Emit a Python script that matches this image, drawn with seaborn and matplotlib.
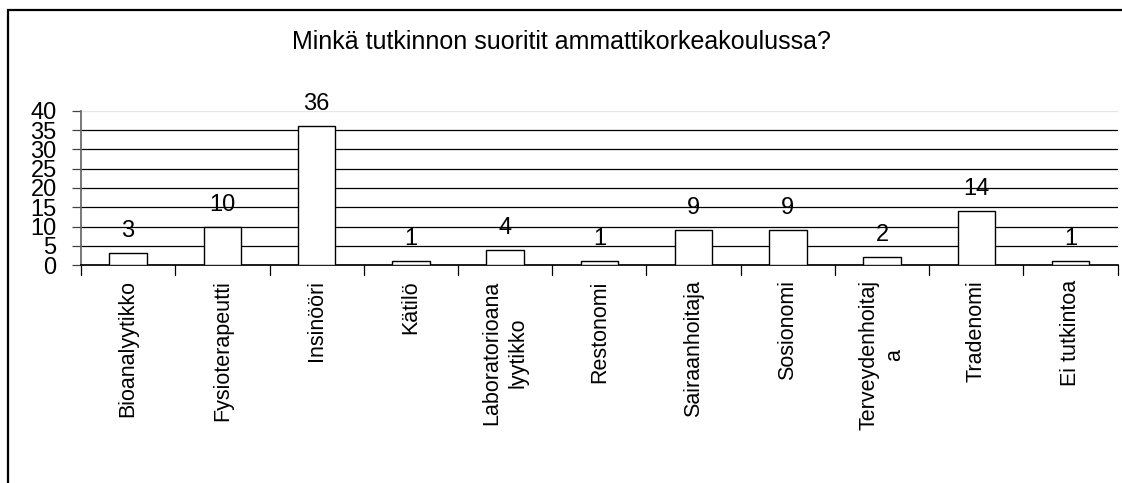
import matplotlib
matplotlib.use("Agg")
import matplotlib.pyplot as plt
import seaborn as sns
import pandas as pd
from matplotlib.patches import Rectangle

sns.set_theme(style="white")
plt.rcParams['font.family'] = ['Liberation Sans', 'DejaVu Sans']
plt.rcParams['text.color'] = 'black'
plt.rcParams['xtick.color'] = 'black'
plt.rcParams['ytick.color'] = 'black'

# Data
categories = ["Bioanalyytikko", "Fysioterapeutti", "Insinööri", "Kätilö",
              "Laboratorioana\nlyytikko", "Restonomi", "Sairaanhoitaja",
              "Sosionomi", "Terveydenhoitaj\na", "Tradenomi", "Ei tutkintoa"]
counts = [3, 10, 36, 1, 4, 1, 9, 9, 2, 14, 1]
yticks = [0, 5, 10, 15, 20, 25, 30, 35, 40]
title = "Minkä tutkinnon suoritit ammattikorkeakoulussa?"

df = pd.DataFrame({"tutkinto": categories, "lkm": counts})

fig = plt.figure(figsize=(11.22, 4.83), dpi=100)
ax = fig.add_axes([0.0722, 0.4513, 0.924, 0.319])

sns.barplot(data=df, x="tutkinto", y="lkm", color="white", edgecolor="black",
            linewidth=1, width=0.4, saturation=1, ax=ax, zorder=3)

ax.set_ylim(0, 40)
ax.set_xlim(-0.5, len(categories) - 0.5)
ax.set_yticks(yticks)
ax.set_yticklabels([str(t) for t in yticks], fontsize=17)
for t in yticks[1:]:
    ax.axhline(t, color="black" if t < 40 else "#e6e6e6", linewidth=0.9, zorder=1)

ax.set_xticks(range(len(categories)))
ax.set_xticklabels(categories, rotation=90, fontsize=15.5, va="top", ha="center",
                   linespacing=1.3)
ax.tick_params(axis="x", length=0, pad=11)
ax.tick_params(axis="y", length=6.5, width=0.9, direction="out", left=True,
               pad=11, color="#444444")
# separator ticks between categories
for i in range(len(categories) + 1):
    ax.plot([i - 0.5, i - 0.5], [0, -0.065], transform=ax.get_xaxis_transform(),
            color="black", linewidth=0.9, clip_on=False)

for i, v in enumerate(counts):
    ax.annotate(str(v), (i, v), xytext=(0, 11.5), textcoords="offset points",
                ha="center", va="baseline", fontsize=17)

for side in ["top", "right"]:
    ax.spines[side].set_visible(False)
ax.spines["left"].set_color("#666666")
ax.spines["bottom"].set_color("black")
ax.set_xlabel("")
ax.set_ylabel("")

fig.text(0.5, 0.913, title, ha="center", va="center", fontsize=18)
fig.patches.append(Rectangle((0.0075, -0.1), 1.1, 1.08, transform=fig.transFigure,
                             fill=False, edgecolor="black", linewidth=1.6))

fig.savefig("out.png", dpi=100)
